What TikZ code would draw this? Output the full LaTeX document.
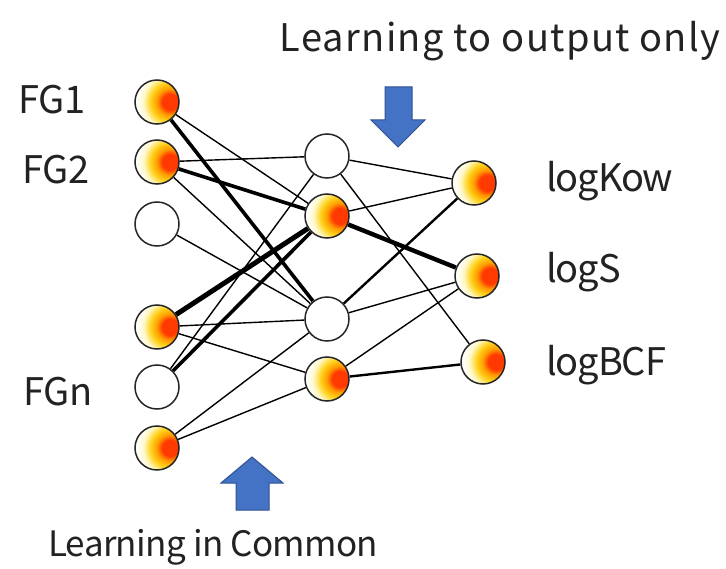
\documentclass[tikz,border=0pt]{standalone}
\usepackage{fontspec}
\usetikzlibrary{backgrounds}
\newfontfamily\labelfont{Noto Sans CJK JP}
\definecolor{fgred}{HTML}{FF3A00}
\definecolor{fgorange}{HTML}{FF9A00}
\definecolor{fgyellow}{HTML}{FFD21A}
\definecolor{fgpale}{HTML}{FFF8C8}
\definecolor{arrowblue}{HTML}{4472C4}
\definecolor{arrowedge}{HTML}{2F528F}
\definecolor{textgray}{HTML}{222222}
\pgfdeclareradialshading{fgball}{\pgfpoint{0bp}{0bp}}{color(0bp)=(fgred); color(5.5bp)=(fgred);
  color(9bp)=(fgorange); color(13.5bp)=(fgyellow); color(18.5bp)=(fgpale); color(23bp)=(white)}

\begin{document}
\begin{tikzpicture}[x=1pt, y=-1pt,
    neuron/.style={circle, draw=black!85, line width=1.5pt, minimum size=44pt, inner sep=0pt, fill=white},
    fgnode/.style={neuron, path picture={\shade[shading=fgball]
        ([xshift=13pt]path picture bounding box.center) circle (36pt);}},
    link/.style={line width=1.4pt},
    strong/.style={line width=3.6pt},
    medium/.style={line width=2.4pt},
    label/.style={font=\labelfont\fontsize{38}{44}\selectfont, text=textgray, inner sep=0pt},
    outlabel/.style={label, anchor=west, font=\labelfont\fontsize{38}{44}\selectfont\addfontfeatures{LetterSpace=-3}},
    bluearrow/.style={fill=arrowblue, draw=arrowedge, line width=1pt, line join=miter}]

  \useasboundingbox (0,0) rectangle (726,569);

  % input layer
  \node[fgnode] (in1) at (157,102) {};
  \node[fgnode] (in2) at (157,162) {};
  \node[neuron] (in3) at (157,224) {};
  \node[fgnode] (in4) at (157,327) {};
  \node[neuron] (in5) at (157,387) {};
  \node[fgnode] (in6) at (157,448) {};

  % hidden layer
  \node[neuron] (hid1) at (327,156) {};
  \node[fgnode] (hid2) at (327,216) {};
  \node[neuron] (hid3) at (327,319) {};
  \node[fgnode] (hid4) at (327,379) {};

  % output layer
  \node[fgnode] (out1) at (474,183) {};
  \node[fgnode] (out2) at (477,276) {};
  \node[fgnode] (out3) at (483,362) {};

  % connections
  \begin{scope}[on background layer]
    \draw[link] (in1) -- (hid2);
    \draw[strong] (in1) -- (hid3);
    \draw[link] (in2) -- (hid1);
    \draw[strong] (in2) -- (hid2);
    \draw[link] (in2) -- (hid3);
    \draw[link] (in3) -- (hid3);
    \draw[line width=5pt] (in4) -- (hid2);
    \draw[link] (in4) -- (hid3);
    \draw[link] (in4) -- (hid4);
    \draw[link] (in5) -- (hid1);
    \draw[strong] (in5) -- (hid2);
    \draw[link] (in6) -- (hid3);
    \draw[link] (in6) -- (hid4);

    \draw[link] (hid1) -- (out1);
    \draw[link] (hid1) -- (out3);
    \draw[link] (hid2) -- (out1);
    \draw[line width=4.4pt] (hid2) -- (out2);
    \draw[medium] (hid3) -- (out1);
    \draw[link] (hid3) -- (out2);
    \draw[link] (hid4) -- (out2);
    \draw[medium] (hid4) -- (out3);
  \end{scope}

  % labels
  \node[label] (fg1) at (52,100) {FG1};
  \node[label] (fg2) at (56,170) {FG2};
  \node[label] (fgn) at (58,392) {FGn};
  \node[outlabel] (kow) at (546,181) {logKow};
  \node[outlabel] (logs) at (546,272) {logS};
  \node[outlabel] (bcf) at (546,365) {logBCF};
  \node[label, font=\labelfont\fontsize{38}{44}\selectfont\addfontfeatures{LetterSpace=3.5}] (top) at (500,41) {Learning to output only};
  \node[label, font=\labelfont\fontsize{35}{42}\selectfont\addfontfeatures{LetterSpace=-2}] (bottom) at (213,547) {Learning in Common};

  % block arrows
  \draw[bluearrow] (385,87) -- (412,87) -- (412,120) -- (425,120) -- (398,147)
    -- (371,120) -- (385,120) -- cycle;
  \draw[bluearrow] (252,457) -- (283,483) -- (269,483) -- (269,510) -- (236,510)
    -- (236,483) -- (221,483) -- cycle;
\end{tikzpicture}
\end{document}
